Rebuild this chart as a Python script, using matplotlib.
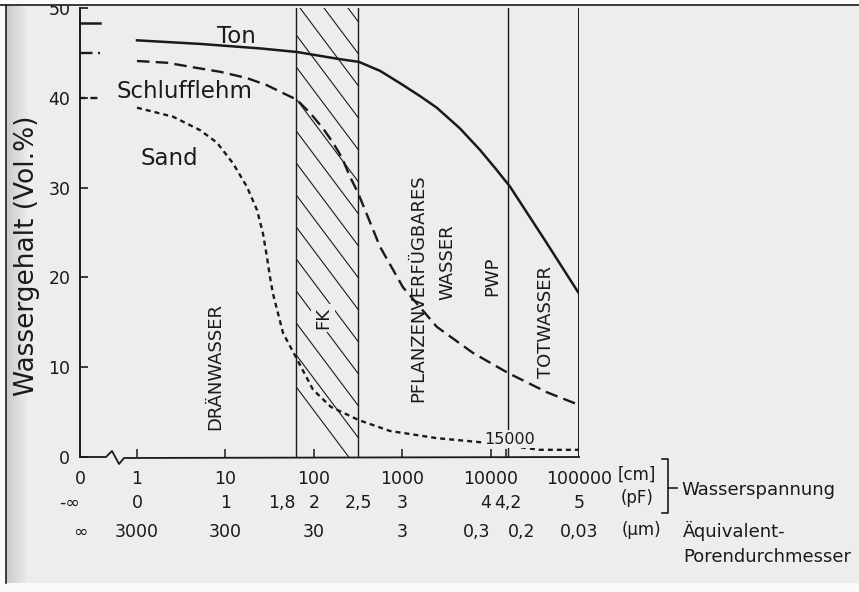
import numpy as np
import matplotlib
matplotlib.use("Agg")
import matplotlib.pyplot as plt
import matplotlib.transforms as mtransforms
from matplotlib.lines import Line2D
from matplotlib.patches import Rectangle

W, H = 859, 592

# Wasserspannung h [cm WS] und Wassergehalt [Vol.-%] der drei Böden
ton_h = [1, 5.2, 24.7, 64.5, 98, 198, 324, 562, 955, 1585, 2460, 4490, 7580, 11200, 16600, 41400, 100000]
ton_theta = [46.4, 46.0, 45.5, 45.1, 44.8, 44.3, 44.0, 43.0, 41.6, 40.2, 38.9, 36.6, 34.2, 32.2, 30.1, 24.1, 18.2]

lehm_h = [1, 2.2, 4.3, 8.7, 17.5, 29.5, 50, 64, 91, 127, 165, 209, 257, 317, 562, 1020, 2460, 6300, 15800, 43600, 100000]
lehm_theta = [44.1, 43.9, 43.4, 42.9, 42.2, 41.4, 40.3, 39.8, 38.3, 36.6, 35.0, 33.3, 31.2, 29.4, 23.4, 18.9, 14.5, 11.6, 9.35, 7.2, 5.8]

sand_h = [1, 2.55, 5.16, 8.04, 12.2, 17.5, 22.8, 26.6, 29.6, 32.0, 34.5, 44.9, 62.9, 98, 155, 324, 727, 2460, 8630, 36000, 100000]
sand_theta = [38.9, 37.9, 36.4, 35.0, 32.7, 30.1, 27.5, 24.9, 22.2, 20.0, 18.2, 13.8, 11.1, 7.5, 5.6, 4.1, 2.9, 2.1, 1.6, 0.8, 0.8]

# Wassergehalt bei Sättigung (h = 0): Ton, Schlufflehm, Sand
sat_theta = [48.3, 45.0, 40.0]

# Bereichsgrenzen als pF-Werte
pf_fk = [1.8, 2.5]
pf_pwp = 4.2
pf_end = 5.0

# Beschriftungszeilen unter der Achse
cm_labels = ["1", "10", "100", "1000", "10000", "100000"]
cm_at = [1, 10, 100, 1000, 1e4, 1e5]
pf_labels = ["0", "1", "1,8", "2", "2,5", "3", "4", "4,2", "5"]
pf_at = [1, 10, 10**1.8, 100, 10**2.5, 1000, 1e4, 10**4.2, 1e5]
pf_ha = ["center", "center", "right", "center", "center", "center", "right", "center", "center"]
um_labels = ["3000", "300", "30", "3", "0,3", "0,2", "0,03"]
um_at = [1, 10, 100, 1000, 1e4, 10**4.2, 1e5]
um_ha = ["center", "center", "center", "center", "right", "left", "center"]

BG = "#ededed"
INK = "#1a1a1a"
plt.rcParams["font.family"] = ["DejaVu Sans"]
plt.rcParams["lines.scale_dashes"] = False

fig = plt.figure(figsize=(W / 100, H / 100), dpi=100, facecolor=BG)
# pixel coordinates, origin top left
PX = mtransforms.Affine2D().scale(1 / W, -1 / H).translate(0, 1) + fig.transFigure

x_left, x_right, y_bot, y_top = 80, 579, 457, 8
ax = fig.add_axes([x_left / W, 1 - y_bot / H, (x_right - x_left) / W, (y_bot - y_top) / H])
ax.set_facecolor("none")
ax.set_xscale("log")
xmin = 10 ** (-57 / 88.4)
ax.set_xlim(xmin, 1e5)
ax.set_ylim(0, 50)

for s in ["top", "right", "bottom"]:
    ax.spines[s].set_visible(False)
ax.spines["left"].set_linewidth(1.4)
ax.spines["left"].set_color(INK)

ax.set_yticks(range(0, 51, 10))
ax.tick_params(axis="y", direction="in", length=6, width=1.2, colors=INK,
               labelsize=12.5, pad=7)
ax.set_xticks([1, 10, 100, 1000, 1e4, 1.5e4])
ax.xaxis.set_minor_locator(matplotlib.ticker.NullLocator())
ax.tick_params(axis="x", direction="in", length=6, width=1.1, colors=INK,
               labelbottom=False)

# Bereichsgrenzen
for pf in pf_fk + [pf_pwp]:
    ax.axvline(10 ** pf, color=INK, lw=1.0, zorder=2)
ax.axvline(10 ** pf_end, color=INK, lw=1.4, zorder=2)

# Schraffur Feldkapazität
fk_box = Rectangle((10 ** pf_fk[0], 0), 10 ** pf_fk[1] - 10 ** pf_fk[0], 50,
                   facecolor="none", edgecolor="none")
ax.add_patch(fk_box)
for x0 in np.arange(294 - 24 * 12, 500, 24):
    ln = Line2D([x0, x0 + 0.75 * 600], [0, 600], transform=PX, color=INK, lw=0.8, zorder=1)
    ax.add_line(ln)
    ln.set_clip_path(fk_box)

# Kurven
ax.plot(ton_h, ton_theta, color=INK, lw=1.8, zorder=3)
ax.plot(lehm_h, lehm_theta, color=INK, lw=1.7, linestyle=(0, (9, 4.5)), zorder=3)
ax.plot(sand_h, sand_theta, color=INK, lw=1.7, linestyle=(0, (3.6, 2.9)), zorder=3)

# Werte bei Sättigung, links vom Achsenbruch
stub_x = [xmin, 0.38]
ax.plot(stub_x, [sat_theta[0]] * 2, color=INK, lw=1.8, clip_on=False)
ax.plot(stub_x, [sat_theta[1]] * 2, color=INK, lw=1.7, linestyle=(0, (9, 4, 1.5, 4)), clip_on=False)
ax.plot(stub_x, [sat_theta[2]] * 2, color=INK, lw=1.7, linestyle=(1, (5, 3.5)), clip_on=False)

# x-Achse mit Bruch
ax.add_line(Line2D([80, 106, 112, 119, 124, 579], [457, 457, 451, 464, 458, 457],
                   transform=PX, color=INK, lw=1.3, clip_on=False))

# Kurvennamen
big = dict(fontsize=16.5, color=INK, va="baseline", transform=PX)
ax.text(217, 43, "Ton", **big)
ax.text(117, 98, "Schlufflehm", **big)
ax.text(141, 165, "Sand", **big)

# Bereichsnamen
zone = dict(fontsize=13, color=INK, rotation=90, ha="center", va="center", transform=PX)
ax.text(215, 366, "DRÄNWASSER", **zone)
ax.text(323, 318, "FK", bbox=dict(boxstyle="square,pad=0.15", fc=BG, ec="none"), zorder=4, **zone)
ax.text(418, 288, "PFLANZENVERFÜGBARES", **zone)
ax.text(447, 262, "WASSER", **zone)
ax.text(492, 276, "PWP", **zone)
ax.text(546, 322, "TOTWASSER", **zone)
ax.text(510, 439, "15000", fontsize=11.5, color=INK, ha="center", va="center", transform=PX,
        bbox=dict(boxstyle="square,pad=0.1", fc=BG, ec="none"), zorder=5)

# Beschriftungszeilen
row = mtransforms.blended_transform_factory(ax.transData, PX)
tick_font = dict(fontsize=12.5, color=INK, va="baseline", transform=row, clip_on=False)
ax.text(xmin, 484, "0", ha="center", **tick_font)
for lab, h in zip(cm_labels, cm_at):
    ax.text(h, 484, lab, ha="center", **tick_font)
ax.text(xmin, 508, "-∞", ha="right", **tick_font)
for lab, h, ha in zip(pf_labels, pf_at, pf_ha):
    ax.text(h, 508, lab, ha=ha, **tick_font)
ax.text(xmin, 537, "∞", ha="center", **tick_font)
for lab, h, ha in zip(um_labels, um_at, um_ha):
    ax.text(h, 537, lab, ha=ha, **tick_font)

unit = dict(fontsize=12, color=INK, va="baseline", ha="center", transform=PX)
fig.text(637, 480, "[cm]", **unit)
fig.text(637, 503, "(pF)", **unit)
fig.text(641, 535, "(µm)", **unit)
fig.add_artist(Line2D([662, 668, 668, 662], [459, 459, 513, 513], transform=PX, color=INK, lw=1.2))
fig.add_artist(Line2D([668, 677], [488, 488], transform=PX, color=INK, lw=1.2))
side = dict(fontsize=13, color=INK, va="baseline", ha="left", transform=PX)
fig.text(681, 495, "Wasserspannung", **side)
fig.text(683, 537, "Äquivalent-", **side)
fig.text(683, 562, "Porendurchmesser", **side)

fig.text(27, 256, "Wassergehalt (Vol.%)", fontsize=19, color=INK,
         rotation=90, ha="center", va="center", transform=PX)

# Schatten am linken Seitenrand
shade = np.zeros((578, 22, 4))
shade[..., :3] = 0.55
shade[..., 3] = np.linspace(0.35, 0.0, 22)[None, :]
fig.figimage(shade, xo=7, yo=H - 583, zorder=1)

# Rand der Seite
for x, y, w, h in [(0, 0, W, 5), (0, 0, 6, H), (0, 583, W, H - 583)]:
    fig.add_artist(Rectangle((x, y), w, h, transform=PX, facecolor="#fafafa",
                             edgecolor="none", zorder=10))
fig.add_artist(Line2D([0, W], [5, 5], transform=PX, color=INK, lw=1.2, zorder=11))
fig.add_artist(Line2D([6, 6], [5, 583], transform=PX, color=INK, lw=1.2, zorder=11))

fig.savefig("out.png", dpi=100, facecolor=BG)
